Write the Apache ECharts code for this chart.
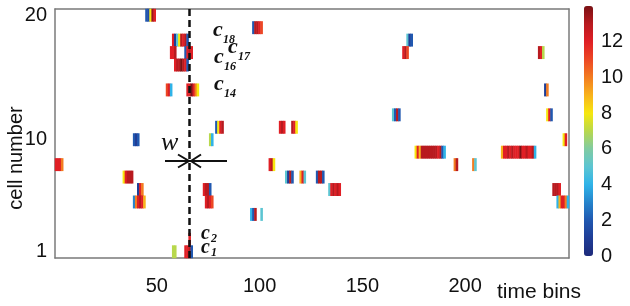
<!DOCTYPE html>
<html>
<head>
<meta charset="utf-8">
<script src="https://cdn.jsdelivr.net/npm/echarts@6/dist/echarts.min.js"></script>
<style>
  html, body { margin: 0; padding: 0; background: #fff; }
  #chart { width: 630px; height: 306px; }
</style>
</head>
<body>
<div id="chart"></div>
<script>
// axes
const timeBins = Array.from({ length: 250 }, (_, i) => String(i + 1));
const cellNumbers = Array.from({ length: 20 }, (_, i) => String(i + 1));
const timeTicks = ['50', '100', '150', '200'];
const cellLabels = ['1', '10', '20'];
const cellTicks = ['2', '4', '6', '8', '10', '12', '14', '16', '18', '20'];
const colorTicks = [0, 2, 4, 6, 8, 10, 12];
const markBin = '66';

// firing segments: cell, first time bin, value per bin
const segCell = [20, 18, 17, 17, 16, 14, 14, 11, 10, 10, 8, 7, 6, 5, 6, 5, 4, 4, 2, 1, 1,
  19, 11, 11, 8, 7, 7, 7, 6, 18, 17, 12, 17, 14, 12, 10, 9, 9, 8, 8, 6, 5];
const segStart = [45, 58, 57, 64, 59, 55, 65, 79, 76, 39, 1, 34, 41, 39, 73, 74, 96, 101, 66, 64, 58,
  97, 110, 116, 105, 113, 120, 128, 134, 172, 170, 165, 236, 239, 240, 248, 218, 176, 195, 204, 243, 245];
const segValues = [
  [2, 1.5, 8, 13.5, 12],
  [12, 1, 5, 8, 13, 12, 13, 2],
  [12, 12, 13],
  [2, 12, 13, 12],
  [12, 13, 13, 14, 13, 12, 2],
  [11, 12, 4],
  [12, 12, 14, 12, 10, 8],
  [2, 8, 12, 13],
  [7, 4],
  [2, 1, 2],
  [12, 12, 12, 10],
  [8, 12, 13, 13, 13],
  [1, 12, 10],
  [3, 10, 12, 13, 12, 9],
  [12, 13, 13, 2],
  [12, 13, 12, 11],
  [4, 2, 13],
  [5],
  [12],
  [12, 12, 13, 2],
  [7, 7],
  [2, 13, 13, 12, 11],
  [12, 13, 12],
  [13, 12, 8],
  [12, 13, 8],
  [5, 1, 13, 2],
  [9, 12, 5],
  [2, 13, 13, 2],
  [5, 12, 13, 12, 13, 12],
  [5, 1, 2],
  [12, 13, 11],
  [5, 2, 13, 2],
  [13, 12, 7],
  [1, 10],
  [8, 12, 2],
  [8, 12],
  [9, 12, 12, 13, 12, 13, 12, 12, 12, 14, 12, 12, 13, 12, 12, 13, 4],
  [8, 12, 9, 13, 13, 13, 13, 13, 13, 13, 13, 12, 13, 2, 4],
  [10, 13],
  [10, 5],
  [13, 13, 13, 12],
  [4, 9, 12, 12, 10, 4]
];

const jetColors = ['#1e2a7a', '#1f3d96', '#2058b0', '#2584cc', '#2fb3e8', '#5cc5d2', '#80cba2',
  '#b8d84c', '#f6e70e', '#f8b31c', '#f37c20', '#ec4724', '#e01f25', '#b81a1f', '#7a1214'];

const heatData = [];
segCell.forEach((cell, k) => {
  segValues[k].forEach((v, j) => {
    heatData.push([segStart[k] - 1 + j, cell - 1, v]);
  });
});

const axisColor = '#7a7a7a';
const labelFont = { fontFamily: 'Liberation Sans', fontSize: 20, color: '#111' };
const capFont = 'italic bold 22px "Liberation Serif"';
const subFont = 'italic bold 12px "Liberation Serif"';

const chart = echarts.init(document.getElementById('chart'));

// small helper for the cell tags (c + subscript)
function tag(x, y, sub, big) {
  return [
    { type: 'text', x: x, y: y, style: { text: 'c', font: big ? capFont : 'italic bold 20px "Liberation Serif"', fill: '#111', verticalAlign: 'middle' } },
    { type: 'text', x: x + 10, y: y + (big ? 9 : 5), style: { text: sub, font: subFont, fill: '#111', verticalAlign: 'middle' } }
  ];
}

const option = {
  animation: false,
  grid: [
    { left: 55, top: 9, width: 514, height: 249 },
    { left: 584, top: 6, width: 9, height: 250 }
  ],
  xAxis: [
    {
      type: 'category', data: timeBins, gridIndex: 0,
      axisLine: { lineStyle: { color: axisColor, width: 1.5 } },
      axisTick: { inside: true, length: 5, alignWithLabel: true, interval: (i, v) => timeTicks.includes(v), lineStyle: { color: axisColor } },
      axisLabel: { interval: (i, v) => timeTicks.includes(v), margin: 18, ...labelFont },
      splitLine: { show: false }
    },
    {
      type: 'category', data: timeBins, gridIndex: 0, position: 'top',
      axisLine: { lineStyle: { color: axisColor, width: 1.5 } },
      axisTick: { inside: true, length: 5, alignWithLabel: true, interval: (i, v) => timeTicks.includes(v), lineStyle: { color: axisColor } },
      axisLabel: { show: false },
      splitLine: { show: false }
    },
    { type: 'value', gridIndex: 1, show: false, min: 0, max: 1 }
  ],
  yAxis: [
    {
      type: 'category', data: cellNumbers, gridIndex: 0,
      axisLine: { lineStyle: { color: axisColor, width: 1.5 } },
      axisTick: { inside: true, length: 5, alignWithLabel: true, interval: (i, v) => cellTicks.includes(v), lineStyle: { color: axisColor } },
      axisLabel: { interval: (i, v) => cellLabels.includes(v), margin: 8, ...labelFont },
      splitLine: { show: false }
    },
    {
      type: 'category', data: cellNumbers, gridIndex: 0, position: 'right',
      axisLine: { lineStyle: { color: axisColor, width: 1.5 } },
      axisTick: { inside: true, length: 5, alignWithLabel: true, interval: (i, v) => cellTicks.includes(v), lineStyle: { color: axisColor } },
      axisLabel: { show: false },
      splitLine: { show: false }
    },
    {
      type: 'value', gridIndex: 1, position: 'right', min: 0, max: 14, interval: 2,
      axisLine: { show: false }, axisTick: { show: false }, splitLine: { show: false },
      axisLabel: { margin: 8, formatter: v => (colorTicks.includes(v) ? String(v) : ''), ...labelFont }
    }
  ],
  visualMap: {
    type: 'continuous', min: 0, max: 14, seriesIndex: 0, calculable: false,
    left: 584, top: 6, itemWidth: 9, itemHeight: 250, padding: 0,
    inRange: { color: jetColors }
  },
  series: [
    {
      type: 'heatmap', xAxisIndex: 0, yAxisIndex: 0, data: heatData,
      markLine: {
        silent: true, symbol: ['none', 'none'], label: { show: false },
        lineStyle: { color: '#111', width: 2.5, type: [7, 4] },
        data: [{ xAxis: markBin }]
      }
    }
  ],
  graphic: [
    { type: 'text', x: 16, y: 158, rotation: Math.PI / 2, style: { text: 'cell number', font: '20px "Liberation Sans"', fill: '#111', align: 'center', verticalAlign: 'middle' } },
    { type: 'text', x: 497, y: 292, style: { text: 'time bins', font: '21px "Liberation Sans"', fill: '#111', verticalAlign: 'middle' } },
    ...tag(213, 30.5, '18', true),
    ...tag(228, 47.5, '17', true),
    ...tag(214, 57.5, '16', true),
    ...tag(214, 84.5, '14', true),
    ...tag(201, 234, '2', false),
    ...tag(201, 248, '1', false),
    { type: 'text', x: 161, y: 143, style: { text: 'w', font: 'italic 26px "Liberation Serif"', fill: '#111', verticalAlign: 'middle' } },
    { type: 'line', shape: { x1: 165, y1: 161, x2: 227, y2: 161 }, style: { stroke: '#111', lineWidth: 2 } },
    { type: 'polyline', shape: { points: [[178, 154.5], [189, 161], [178, 167.5]] }, style: { stroke: '#111', lineWidth: 2, fill: null } },
    { type: 'polyline', shape: { points: [[201, 154.5], [191, 161], [201, 167.5]] }, style: { stroke: '#111', lineWidth: 2, fill: null } }
  ]
};

chart.setOption(option);
</script>
</body>
</html>
